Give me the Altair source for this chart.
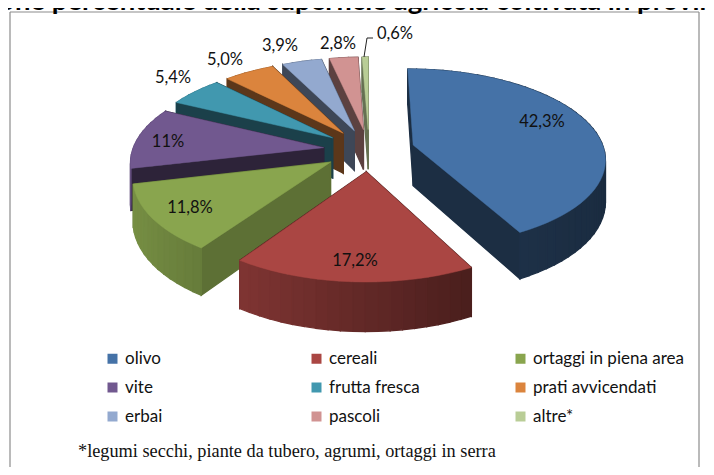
import math
import altair as alt

# --- data ---
categories = ["olivo", "cereali", "ortaggi in piena area", "vite", "frutta fresca",
              "prati avvicendati", "erbai", "pascoli", "altre*"]
values = [42.3, 17.2, 11.8, 11.0, 5.4, 5.0, 3.9, 2.8, 0.6]
value_labels = ["42,3%", "17,2%", "11,8%", "11%", "5,4%", "5,0%", "3,9%", "2,8%", "0,6%"]
title_text = "one percentuale della superficie agricola coltivata in provin"
footnote = "*legumi secchi, piante da tubero, agrumi, ortaggi in serra"

# --- style / layout ---
colors = ["#4572A7", "#AA4643", "#89A54E", "#71588F", "#4198AF", "#DB843D", "#93A9CF", "#D19392", "#B9CD96"]
cut_shade = [0.40, 0.45, 0.68, 0.40, 0.42, 0.42, 0.42, 0.44, 0.55]
label_x = [542, 355, 190, 168, 173, 225, 280, 338, 395]
label_y = [122, 261, 208, 142, 78, 60, 46, 44, 34]
W, H = 698, 459
OX, OY = 8, 8
CX, CY, RX, RY = 369, 150, 191, 88
EXPLODE, PERSP, DEPTH = 0.24, 0.14, 41


def project(X, Y, drop=0.0):
    s = 1 / (1 - PERSP * Y)
    return [CX + RX * X * s, CY + RY * Y * s + drop * s]


def shade(hex_color, f):
    r, g, b = (int(hex_color[i:i + 2], 16) for i in (1, 3, 5))
    return "#%02x%02x%02x" % (round(r * f), round(g * f), round(b * f))


def outer_shade(u):
    pts = [(-1.0, 0.88), (-0.5, 0.73), (0.5, 0.42), (1.0, 0.38)]
    for (a, fa), (b, fb) in zip(pts, pts[1:]):
        if u <= b:
            return fa + (fb - fa) * (u - a) / (b - a)
    return pts[-1][1]


def feature(points, fill, sw):
    return {"type": "Feature", "properties": {"fill": fill, "sw": sw},
            "geometry": {"type": "Polygon", "coordinates": [points + [points[0]]]}}


total = sum(values)
slices = []
cum = 0.0
for i, v in enumerate(values):
    a0 = cum / total * 2 * math.pi
    cum += v
    a1 = cum / total * 2 * math.pi
    slices.append((i, a0, a1))


def mid_v(s):
    return -math.cos((s[1] + s[2]) / 2)


features = []
for i, a0, a1 in sorted(slices, key=mid_v):
    am = (a0 + a1) / 2
    ex, ey = EXPLODE * math.sin(am), -EXPLODE * math.cos(am)
    n = max(2, int((a1 - a0) / math.radians(3)))
    angles = [a0 + (a1 - a0) * k / n for k in range(n + 1)]
    rim = [(ex + math.sin(a), ey - math.cos(a)) for a in angles]
    col = colors[i]
    faces = []
    for p in (rim[0], rim[-1]):
        quad = [project(ex, ey), project(*p), project(*p, DEPTH), project(ex, ey, DEPTH)]
        faces.append(((ey + p[1]) / 2, quad, shade(col, cut_shade[i])))
    for k in range(n):
        p, q = rim[k], rim[k + 1]
        quad = [project(*p), project(*q), project(*q, DEPTH), project(*p, DEPTH)]
        u = math.sin((angles[k] + angles[k + 1]) / 2)
        faces.append(((p[1] + q[1]) / 2, quad, shade(col, outer_shade(u))))
    for _, quad, fill in sorted(faces, key=lambda f: f[0]):
        features.append(feature(quad, fill, 1.3))
    top = [project(ex, ey)] + [project(*p) for p in rim]
    features.append(feature(top, col, 0.5))

x_scale = alt.Scale(domain=[OX, OX + W], range=[0, W])
y_scale = alt.Scale(domain=[OY, OY + H], range=[0, H])
X = lambda f: alt.X(f, type="quantitative", scale=x_scale, axis=None)
Y = lambda f: alt.Y(f, type="quantitative", scale=y_scale, axis=None)

pie = alt.Chart(alt.Data(values=features)).mark_geoshape().encode(
    fill=alt.Fill("properties.fill:N", scale=None),
    stroke=alt.Stroke("properties.fill:N", scale=None),
    strokeWidth=alt.StrokeWidth("properties.sw:Q", scale=None),
).project(type="identity", scale=1, translate=[-OX, -OY])

frame_segments = [
    {"x": 10, "y": 12, "x2": 699, "y2": 12},
    {"x": 10, "y": 12, "x2": 10, "y2": 475},
    {"x": 699, "y": 12, "x2": 699, "y2": 475},
]
frame = alt.Chart(alt.Data(values=frame_segments)).mark_rule(color="#8c8c8c", strokeWidth=1.2).encode(
    x=X("x"), y=Y("y"), x2="x2:Q", y2="y2:Q")

leader = alt.Chart(alt.Data(values=[{"x": 364, "y": 57, "o": 0}, {"x": 367, "y": 38, "o": 1}, {"x": 373, "y": 38, "o": 2}])).mark_line(
    color="#222222", strokeWidth=1).encode(x=X("x"), y=Y("y"), order="o:Q")

labels = alt.Chart(alt.Data(values=[
    {"t": t, "x": x, "y": y} for t, x, y in zip(value_labels, label_x, label_y)
])).mark_text(font="Lato", fontSize=16.5, color="#111111").encode(x=X("x"), y=Y("y"), text="t:N")

title = alt.Chart(alt.Data(values=[{"t": title_text, "x": 357, "y": 10}])).mark_text(
    font="Lato", fontSize=27.5, fontWeight="bold", color="#000000", baseline="alphabetic").encode(
    x=X("x"), y=Y("y"), text="t:N")

foot = alt.Chart(alt.Data(values=[{"t": footnote, "x": 78, "y": 452}])).mark_text(
    font="Liberation Serif", fontSize=18.3, color="#111111", align="left").encode(
    x=X("x"), y=Y("y"), text="t:N")

legend_layer = alt.Chart(alt.Data(values=[{"c": c} for c in categories])).mark_point(
    filled=True, opacity=0, shape="square").encode(
    color=alt.Color("c:N", sort=categories, scale=alt.Scale(domain=categories, range=colors),
                    legend=alt.Legend(orient="none", legendX=96, legendY=342, columns=3, gridAlign="all",
                                      direction="horizontal",
                                      columnPadding=32, rowPadding=11, title=None, symbolType="square",
                                      symbolSize=100, symbolOpacity=1, symbolStrokeWidth=0,
                                      labelFont="Lato", labelFontSize=17, labelColor="#111111",
                                      labelLimit=300, labelOffset=4)))

chart = alt.layer(pie, frame, leader, labels, title, foot, legend_layer).properties(
    width=W, height=H, padding=0, background="white",
    autosize=alt.AutoSizeParams(type="none"),
).configure_view(stroke=None)

chart.save("out.html", embed_options={"renderer": "svg", "actions": False})
